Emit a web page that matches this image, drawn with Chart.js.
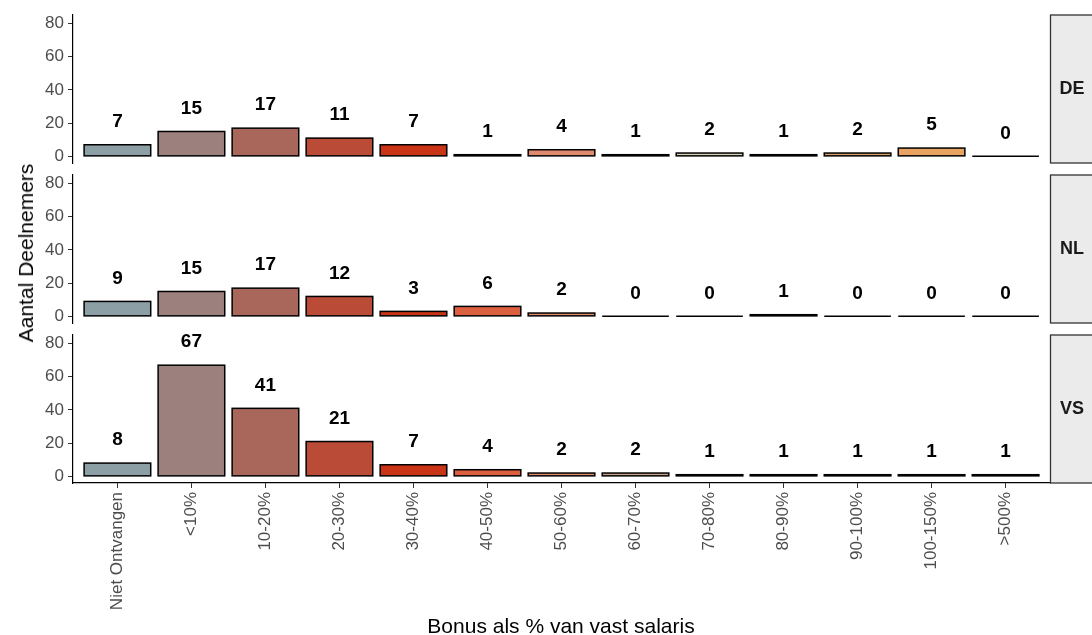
<!DOCTYPE html>
<html>
<head>
<meta charset="utf-8">
<script src="https://cdn.jsdelivr.net/npm/chart.js@4.4.1/dist/chart.umd.min.js"></script>
<style>
    body { margin: 0; background: #fff; width: 1092px; height: 635px; overflow: hidden; position: relative; font-family: "Liberation Sans", Arial, sans-serif; }
    canvas { position: absolute; left: 0; }
    .ytitle { position: absolute; left: 26px; top: 253px; transform: translate(-50%, -50%) rotate(-90deg); font-size: 21px; white-space: nowrap; color: #000; }
    .xtitle { position: absolute; left: 561px; top: 626px; transform: translate(-50%, -50%); font-size: 21px; white-space: nowrap; color: #000; }
</style>
</head>
<body>
<canvas id="panelDE" width="1092" height="173" style="top:0px"></canvas>
<canvas id="panelNL" width="1092" height="168" style="top:165px"></canvas>
<canvas id="panelVS" width="1092" height="310" style="top:325px"></canvas>
<div class="ytitle">Aantal Deelnemers</div>
<div class="xtitle">Bonus als % van vast salaris</div>
<script>
// data
const categories = ['Niet Ontvangen', '<10%', '10-20%', '20-30%', '30-40%', '40-50%', '50-60%', '60-70%', '70-80%', '80-90%', '90-100%', '100-150%', '>500%']
const deValues = [7, 15, 17, 11, 7, 1, 4, 1, 2, 1, 2, 5, 0]
const nlValues = [9, 15, 17, 12, 3, 6, 2, 0, 0, 1, 0, 0, 0]
const vsValues = [8, 67, 41, 21, 7, 4, 2, 2, 1, 1, 1, 1, 1]
const yTicks = [0, 20, 40, 60, 80]
const barColors = ['#8c9fa5', '#9c807e', '#a9665b', '#ba4b36', '#c93316', '#dc5f3f', '#e08a6d', '#c9a28a', '#d9d2b5', '#d9b98a', '#d69d6a', '#e8a261', '#e0b070']

const fontFamily = '"Liberation Sans", Arial, sans-serif'

// start: plugins
// outline centred on the bar edges (like ggplot), so thin bars still read as a black line
const barOutline = {
    id: 'barOutline',
    afterDatasetsDraw(chart) {
        const ctx = chart.ctx
        ctx.save()
        ctx.strokeStyle = '#000'
        ctx.lineWidth = 1.5
        chart.getDatasetMeta(0).data.forEach(function (bar) {
            const p = bar.getProps(['x', 'y', 'base', 'width'], true)
            const top = Math.min(p.y, p.base)
            ctx.strokeRect(p.x - p.width / 2, top, p.width, Math.abs(p.base - p.y))
        })
        ctx.restore()
    }
}

const valueLabels = {
    id: 'valueLabels',
    afterDatasetsDraw(chart) {
        const ctx = chart.ctx
        const yScale = chart.scales.y
        ctx.save()
        ctx.font = 'bold 19px ' + fontFamily
        ctx.fillStyle = '#000'
        ctx.textAlign = 'center'
        ctx.textBaseline = 'middle'
        chart.getDatasetMeta(0).data.forEach(function (bar, i) {
            const v = chart.data.datasets[0].data[i].y
            ctx.fillText(String(v), bar.x, yScale.getPixelForValue(v) - 23)
        })
        ctx.restore()
    }
}

const strip = {
    id: 'strip',
    afterDraw(chart, args, opts) {
        const a = chart.chartArea
        const ctx = chart.ctx
        ctx.save()
        ctx.fillStyle = '#ebebeb'
        ctx.fillRect(a.right, a.top, 80, a.bottom - a.top)
        ctx.strokeStyle = '#333'
        ctx.lineWidth = 1.3
        ctx.strokeRect(a.right + 0.5, a.top, 80, a.bottom - a.top)
        ctx.font = 'bold 18px ' + fontFamily
        ctx.fillStyle = '#1a1a1a'
        ctx.textAlign = 'center'
        ctx.textBaseline = 'middle'
        ctx.fillText(opts.label, a.right + 22, (a.top + a.bottom) / 2)
        ctx.restore()
    }
}
// end: plugins

function makePanel(id, label, values, padTop, padBottom, showX) {
    const ctx = document.getElementById(id).getContext('2d')
    return new Chart(ctx, {
        type: 'bar',
        data: {
            datasets: [{
                data: values.map(function (v, i) { return { x: i, y: v } }),
                backgroundColor: barColors,
                borderWidth: 0,
                inflateAmount: 0,
                categoryPercentage: 1,
                barPercentage: 0.9
            }]
        },
        options: {
            responsive: false,
            devicePixelRatio: 1,
            animation: false,
            layout: { padding: { top: padTop, bottom: padBottom, left: 0, right: 42 } },
            plugins: {
                legend: { display: false },
                tooltip: { enabled: false },
                strip: { label: label }
            },
            scales: {
                x: {
                    type: 'linear',
                    display: showX,
                    min: -0.6,
                    max: 12.6,
                    offset: false,
                    afterBuildTicks: function (s) { s.ticks = categories.map(function (c, i) { return { value: i } }) },
                    afterFit: function (s) {
                        if (showX) s.height = 152
                        s.paddingLeft = 0
                        s.paddingRight = 0
                    },
                    grid: { offset: false, drawOnChartArea: false, tickLength: 5, color: '#333' },
                    border: { color: '#000', width: 1.2 },
                    ticks: {
                        autoSkip: false,
                        minRotation: 90,
                        maxRotation: 90,
                        padding: 4,
                        color: '#4d4d4d',
                        font: { size: 17, family: fontFamily },
                        callback: function (v) { return categories[v] }
                    }
                },
                y: {
                    min: -4,
                    max: 85.2,
                    afterBuildTicks: function (s) { s.ticks = yTicks.map(function (v) { return { value: v } }) },
                    afterFit: function (s) {
                        s.width = 73
                        s.paddingTop = 0
                        s.paddingBottom = 0
                    },
                    grid: { drawOnChartArea: false, tickLength: 5, color: '#333' },
                    border: { color: '#000', width: 1.2 },
                    ticks: {
                        padding: 4,
                        color: '#4d4d4d',
                        font: { size: 17, family: fontFamily }
                    }
                }
            }
        },
        plugins: [barOutline, valueLabels, strip]
    })
}

makePanel('panelDE', 'DE', deValues, 15, 10, false)
makePanel('panelNL', 'NL', nlValues, 10, 10, false)
makePanel('panelVS', 'VS', vsValues, 10, 0, true)
</script>
</body>
</html>
